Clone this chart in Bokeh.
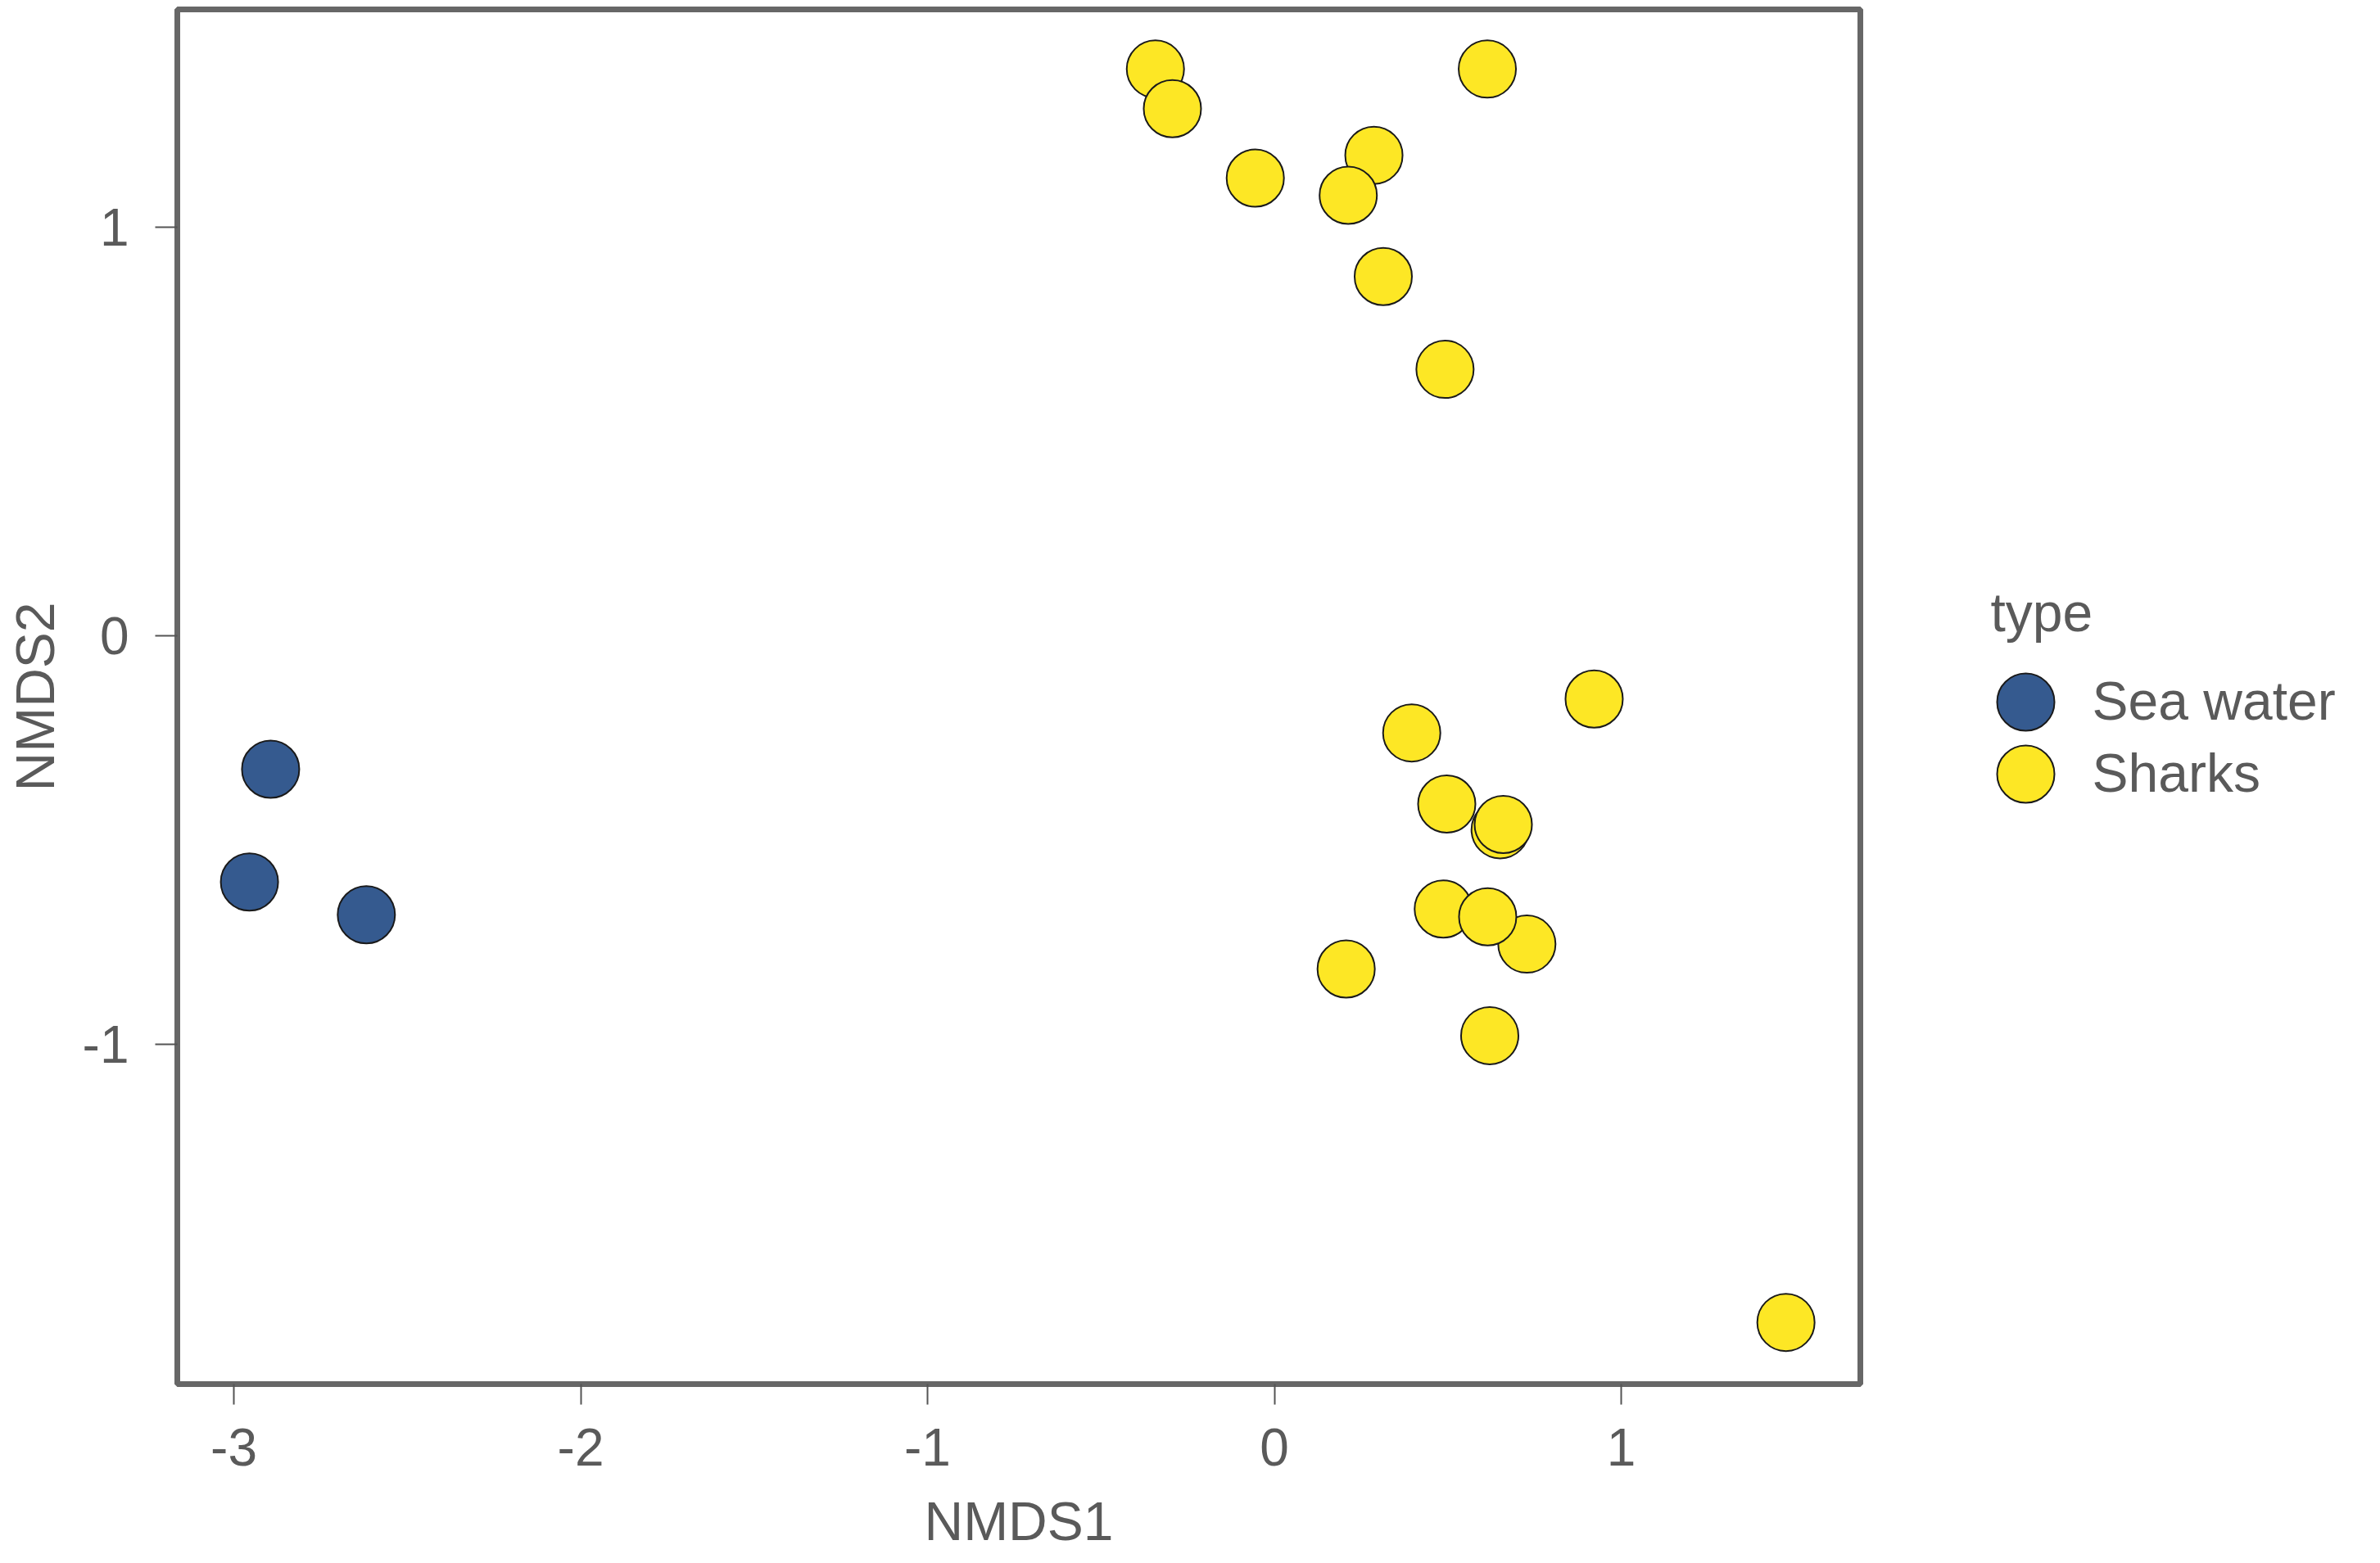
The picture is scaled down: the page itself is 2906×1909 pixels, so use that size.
from bokeh.plotting import figure
from bokeh.models import Range1d, FixedTicker
from bokeh.layouts import row
from bokeh.embed import file_html
from bokeh.resources import INLINE
from bokeh.core.properties import value

# ---- data ----
types = ["Sea water", "Sharks"]
type_colors = ["#355A8F", "#FDE725"]

sea_x = [-2.894, -2.955, -2.618]
sea_y = [-0.327, -0.603, -0.683]

shark_x = [-0.343, -0.294, 0.614, -0.055, 0.287, 0.213, 0.314, 0.492,
           0.396, 0.922, 0.497, 0.651, 0.660, 0.487, 0.728, 0.615, 0.207, 0.621, 1.475]
shark_y = [1.387, 1.290, 1.387, 1.120, 1.176, 1.078, 0.879, 0.652,
           -0.238, -0.155, -0.412, -0.475, -0.462, -0.669, -0.755, -0.688, -0.816, -0.979, -1.681]

x_ticks = [-3, -2, -1, 0, 1]
x_tick_labels = ["-3", "-2", "-1", "0", "1"]
y_ticks = [-1, 0, 1]
y_tick_labels = ["-1", "0", "1"]
x_label = "NMDS1"
y_label = "NMDS2"
legend_title = "type"

# ---- style ----
FONT = "Liberation Sans"
TEXT_COL = "#5A5A5A"
BORDER_COL = "#676767"
PT_SIZE = 70
H = 1900
FRAME_TOP = 11
FRAME_BOTTOM = 1690

p = figure(width=2281, height=H,
           x_range=Range1d(-3.163, 1.6895), y_range=Range1d(-1.832, 1.533),
           min_border_left=216, min_border_right=10, min_border_top=FRAME_TOP,
           min_border_bottom=H - FRAME_BOTTOM,
           toolbar_location=None, output_backend="svg",
           x_axis_label=x_label, y_axis_label=y_label)
p.background_fill_color = "white"
p.border_fill_color = "white"
p.outline_line_color = BORDER_COL
p.outline_line_width = 7
p.grid.visible = False

p.xaxis.ticker = FixedTicker(ticks=x_ticks)
p.yaxis.ticker = FixedTicker(ticks=y_ticks)
p.xaxis.major_label_overrides = dict(zip(x_ticks, x_tick_labels))
p.yaxis.major_label_overrides = dict(zip(y_ticks, y_tick_labels))
for ax in (p.xaxis[0], p.yaxis[0]):
    ax.axis_line_color = None
    ax.major_tick_line_color = "#555555"
    ax.major_tick_line_width = 2
    ax.major_tick_in = 0
    ax.minor_tick_line_color = None
    ax.major_label_text_font = FONT
    ax.major_label_text_font_size = "64px"
    ax.major_label_text_color = TEXT_COL
    ax.axis_label_text_font = FONT
    ax.axis_label_text_font_size = "66px"
    ax.axis_label_text_font_style = "normal"
    ax.axis_label_text_color = TEXT_COL

p.xaxis.major_tick_out = 25
p.xaxis.major_label_standoff = 29
p.xaxis.axis_label_standoff = 28
p.yaxis.major_tick_out = 27
p.yaxis.major_label_standoff = 32
p.yaxis.axis_label_standoff = 18

p.scatter(sea_x, sea_y, size=PT_SIZE, fill_color=type_colors[0],
          line_color="#1a1a1a", line_width=2)
p.scatter(shark_x, shark_y, size=PT_SIZE, fill_color=type_colors[1],
          line_color="#1a1a1a", line_width=2)

# ---- legend panel (its frame is aligned with the main frame; y runs downward in px) ----
LW = 600
lg = figure(width=LW, height=H, x_range=Range1d(0, LW),
            y_range=Range1d(FRAME_BOTTOM, FRAME_TOP),
            min_border=0, toolbar_location=None, output_backend="svg",
            x_axis_location=None, y_axis_location=None)
lg.grid.visible = False
lg.outline_line_color = None
lg.background_fill_color = "white"
lg.border_fill_color = "white"

key_x = 192
label_x = 273
title_x = 149
first_row = 857
row_gap = 88
key_y = [first_row + i * row_gap for i in range(len(types))]
label_y = [k - 2 for k in key_y]

lg.scatter([key_x] * len(types), key_y, size=PT_SIZE, fill_color=type_colors,
           line_color="#1a1a1a", line_width=2)
lg.text([label_x] * len(types), label_y, text=types, text_font=value(FONT),
        text_font_size="66px", text_color=TEXT_COL, text_baseline="alphabetic")
lg.text([title_x], [first_row - 110], text=[legend_title], text_font=value(FONT),
        text_font_size="66px", text_color=TEXT_COL, text_baseline="alphabetic")

layout = row(p, lg)
open("out.html", "w").write(file_html(layout, INLINE))
